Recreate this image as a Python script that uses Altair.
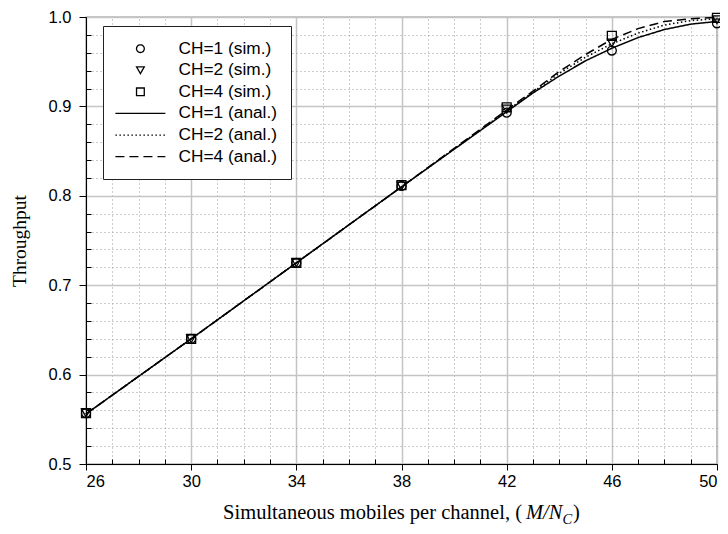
import altair as alt
import pandas as pd

# ---- data ----
sim_x = [26, 30, 34, 38, 42, 46, 50]
sim_ch1 = [0.557, 0.640, 0.725, 0.811, 0.893, 0.9625, 0.993]
sim_ch2 = [0.557, 0.640, 0.725, 0.811, 0.897, 0.971, 0.997]
sim_ch4 = [0.557, 0.640, 0.725, 0.812, 0.899, 0.979, 0.999]

anal_x = [26, 30, 34, 38, 42, 43, 44, 45, 46, 47, 48, 49, 50]
anal_ch1 = [0.556, 0.640, 0.725, 0.810, 0.894, 0.915, 0.934, 0.951, 0.965, 0.977, 0.986, 0.992, 0.995]
anal_ch2 = [0.556, 0.640, 0.725, 0.810, 0.895, 0.916, 0.937, 0.955, 0.970, 0.982, 0.991, 0.996, 0.998]
anal_ch4 = [0.556, 0.640, 0.725, 0.810, 0.896, 0.917, 0.939, 0.958, 0.975, 0.987, 0.995, 0.998, 0.9995]

series_names = ["CH=1 (sim.)", "CH=2 (sim.)", "CH=4 (sim.)",
                "CH=1 (anal.)", "CH=2 (anal.)", "CH=4 (anal.)"]

x_major = [26, 30, 34, 38, 42, 46, 50]
x_minor = [v for v in range(26, 51) if v not in x_major]
y_major = [0.5, 0.6, 0.7, 0.8, 0.9, 1.0]
y_minor = [0.52, 0.54, 0.56, 0.58, 0.62, 0.64, 0.66, 0.68, 0.72, 0.74, 0.76, 0.78,
           0.82, 0.84, 0.86, 0.88, 0.92, 0.94, 0.96, 0.98]

W, H = 631, 447

# ---- tables ----
sim_df = pd.DataFrame({
    "x": sim_x * 3,
    "y": sim_ch1 + sim_ch2 + sim_ch4,
    "series": [series_names[0]] * 7 + [series_names[1]] * 7 + [series_names[2]] * 7,
})
anal_df = pd.DataFrame({
    "x": anal_x * 3,
    "y": anal_ch1 + anal_ch2 + anal_ch4,
    "series": [series_names[3]] * 13 + [series_names[4]] * 13 + [series_names[5]] * 13,
})

xs = alt.Scale(domain=[26, 50], nice=False, zero=False)
ys = alt.Scale(domain=[0.5, 1.0], nice=False, zero=False)

LINE = "M-6.45,0H6.45"
shape_scale = alt.Scale(domain=series_names,
                        range=["circle", "triangle-down", "square", LINE, LINE, LINE])
dash_scale = alt.Scale(domain=series_names,
                       range=[[1, 0], [1, 0], [1, 0], [1, 0], [1.5, 2.5], [9, 5]])

legend = alt.Legend(
    title=None, orient="none", legendX=17, legendY=9,
    fillColor="white", strokeColor="#222", padding=14,
    symbolSize=60, symbolStrokeColor="black", symbolFillColor="transparent",
    symbolStrokeWidth=1.3, symbolOffset=14.75,
    labelFont="Liberation Sans", labelFontSize=17.3,
    labelColor="black", labelOffset=29.5, rowPadding=3.6,
)

# minor dotted grid + inward minor ticks (axes on the opposite sides, pulled across)
minor = alt.Chart(sim_df).mark_point(opacity=0).encode(
    x=alt.X("x:Q", scale=xs, axis=alt.Axis(values=x_minor, orient="top", grid=True,
            gridDash=[1, 3], gridColor="#9a9a9a", gridWidth=1, labels=False,
            ticks=True, tickSize=5, tickColor="black", tickWidth=1, offset=-H,
            domain=False, title=None)),
    y=alt.Y("y:Q", scale=ys, axis=alt.Axis(values=y_minor, orient="right", grid=True,
            gridDash=[1, 3], gridColor="#9a9a9a", gridWidth=1, labels=False,
            ticks=True, tickSize=5, tickColor="black", tickWidth=1, offset=-W,
            domain=False, title=None)),
)

lines = alt.Chart(anal_df).mark_line(color="black", strokeWidth=1.5).encode(
    x=alt.X("x:Q", scale=xs, axis=alt.Axis(values=x_major, orient="bottom", format="d",
            grid=True, gridColor="#c4c4c4", gridWidth=1.5, tickSize=6, tickColor="black",
            domainColor="black", labelFont="Liberation Sans", labelFontSize=16.5,
            labelColor="black", labelPadding=3, title=None)),
    y=alt.Y("y:Q", scale=ys, axis=alt.Axis(values=y_major, orient="left", format=".1f",
            grid=True, gridColor="#c4c4c4", gridWidth=1.5, tickSize=7, tickColor="black",
            domainColor="black", labelFont="Liberation Sans", labelFontSize=16.5,
            labelColor="black", labelPadding=8, title="Throughput",
            titleFont="Liberation Serif", titleFontSize=19.5, titleFontWeight="normal",
            titleColor="black", titlePadding=19)),
    strokeDash=alt.StrokeDash("series:N", scale=dash_scale, legend=legend),
    detail="series:N",
)

points = alt.Chart(sim_df).mark_point(filled=False, color="black", size=80,
                                       strokeWidth=1.3, opacity=1).encode(
    x=alt.X("x:Q", scale=xs, axis=None),
    y=alt.Y("y:Q", scale=ys, axis=None),
    shape=alt.Shape("series:N", scale=shape_scale, legend=legend),
)

one = alt.Data(values=[{"k": 1}])
TF = "Liberation Serif"
BASE = 502
t1 = alt.Chart(one).mark_text(text="Simultaneous mobiles per channel, (", font=TF,
                              fontSize=20.5, align="right", baseline="alphabetic",
                              color="black").encode(x=alt.value(436), y=alt.value(BASE))
t2 = alt.Chart(one).mark_text(text="M/N", font=TF, fontSize=20.5, fontStyle="italic",
                              align="left", baseline="alphabetic",
                              color="black").encode(x=alt.value(440), y=alt.value(BASE))
t3 = alt.Chart(one).mark_text(text="C", font=TF, fontSize=14.5, fontStyle="italic",
                              align="left", baseline="alphabetic",
                              color="black").encode(x=alt.value(476.5), y=alt.value(BASE + 5))
t4 = alt.Chart(one).mark_text(text=")", font=TF, fontSize=20.5,
                              align="left", baseline="alphabetic",
                              color="black").encode(x=alt.value(487), y=alt.value(BASE))

chart = alt.layer(minor, lines, points, t1, t2, t3, t4).resolve_axis(
    x="independent", y="independent"
).properties(
    width=W, height=H,
    autosize=alt.AutoSizeParams(type="none"),
    padding={"left": 78, "top": 9, "right": 3, "bottom": 62},
    background="white",
).configure_view(stroke="#222", strokeWidth=1.2)

chart.save("out.html", embed_options={"renderer": "svg", "actions": False})
